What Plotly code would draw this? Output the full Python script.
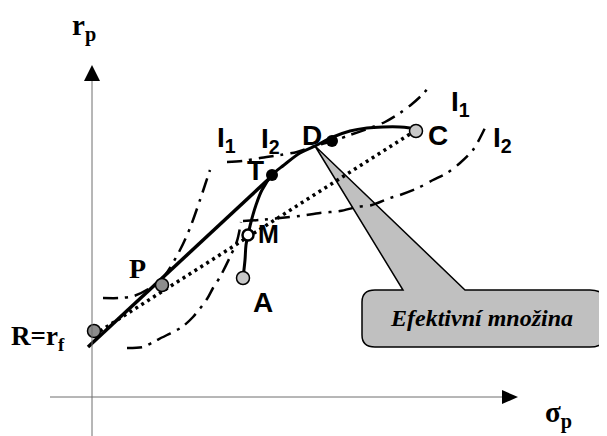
import plotly.graph_objects as go

# ---- data (sigma_p, r_p) in schematic units ----
frontier_sigma = [151, 153, 154, 156, 159, 164, 170, 180, 192, 208, 223, 241, 258, 275, 291, 308, 318]
frontier_r     = [119, 137, 152, 162, 175, 192, 207, 222, 232, 244, 251, 260, 266, 269, 270, 270, 269]

cml_sigma = [-4, 180]
cml_r     = [50, 221]

dotted_sigma = [8, 318]
dotted_r     = [66, 263]

i1_left_sigma = [11, 28, 42, 58, 73, 88, 98, 108, 113, 118]
i1_left_r     = [99, 99, 101, 109, 122, 147, 169, 197, 212, 227]

i2_left_sigma = [35, 51, 63, 75, 90, 101, 115, 121, 128, 138, 145, 149]
i2_left_r     = [49, 50, 56, 62, 70, 80, 98, 109, 120, 140, 156, 175]

i2_right_sigma = [151, 168, 188, 208, 228, 248, 265, 280, 298, 308, 326, 341, 355, 368, 381, 388, 393]
i2_right_r     = [176, 177, 179, 181, 184, 186, 190, 192, 199, 202, 209, 217, 224, 234, 247, 259, 269]

i1_right_sigma = [135, 151, 168, 188, 205, 223, 241, 258, 278, 293, 308, 320, 330, 338]
i1_right_r     = [235, 236, 239, 242, 245, 251, 256, 262, 269, 275, 284, 293, 302, 311]

gray_pts_sigma = [2, 70]          # R, P
gray_pts_r     = [66, 112]
light_pts_sigma = [151, 324]      # A, C
light_pts_r     = [119, 266]
m_sigma, m_r = [156], [162]
black_pts_sigma = [180, 240]      # T, near D
black_pts_r     = [222, 256]

fig = go.Figure()

dashdot = "15px,7px,3px,7px"
for xs, ys in [(i1_left_sigma, i1_left_r), (i2_left_sigma, i2_left_r),
               (i2_right_sigma, i2_right_r), (i1_right_sigma, i1_right_r)]:
    fig.add_trace(go.Scatter(x=xs, y=ys, mode="lines",
                             line=dict(color="black", width=2.5, dash=dashdot, shape="spline", smoothing=0.8),
                             hoverinfo="skip"))

fig.add_trace(go.Scatter(x=dotted_sigma, y=dotted_r, mode="lines",
                         line=dict(color="black", width=3.5, dash="3px,4px"), hoverinfo="skip"))
fig.add_trace(go.Scatter(x=cml_sigma, y=cml_r, mode="lines",
                         line=dict(color="black", width=3.5), hoverinfo="skip"))
fig.add_trace(go.Scatter(x=frontier_sigma, y=frontier_r, mode="lines",
                         line=dict(color="black", width=3, shape="spline"), hoverinfo="skip"))

fig.add_trace(go.Scatter(x=gray_pts_sigma, y=gray_pts_r, mode="markers",
                         marker=dict(size=13, color="#8c8c8c", line=dict(color="black", width=1.5))))
fig.add_trace(go.Scatter(x=light_pts_sigma, y=light_pts_r, mode="markers",
                         marker=dict(size=13, color="#c8c8c8", line=dict(color="black", width=1.5))))
fig.add_trace(go.Scatter(x=m_sigma, y=m_r, mode="markers",
                         marker=dict(size=11, color="white", line=dict(color="black", width=2.5))))
fig.add_trace(go.Scatter(x=black_pts_sigma, y=black_pts_r, mode="markers",
                         marker=dict(size=12, color="black")))

# axes with arrows
axis_col = "#6e6e6e"
shapes = [
    dict(type="line", x0=0, x1=0, y0=-50, y1=318, line=dict(color=axis_col, width=1)),
    dict(type="line", x0=-42, x1=411, y0=0, y1=0, line=dict(color=axis_col, width=1)),
    dict(type="path", path="M -8,316 L 8,316 L 0,332 Z", fillcolor="black", line=dict(width=0)),
    dict(type="path", path="M 410,-7 L 410,7 L 426,0 Z", fillcolor="black", line=dict(width=0)),
    # callout
    dict(type="path", layer="below",
         path=("M 223,251 L 373,107 L 498,107 Q 514,107 514,92 L 514,65 Q 514,50 498,50 "
               "L 283,50 Q 270,50 270,62 L 270,95 Q 270,107 283,107 L 311,107 Z"),
         fillcolor="#c0c0c0", line=dict(color="black", width=1.5)),
]

serif = "Liberation Serif, Times New Roman, serif"
sans = "Liberation Sans, Arial, sans-serif"
ann = []
def lab(x, y, t, fam, size, style="normal"):
    ann.append(dict(x=x, y=y, xref="x", yref="y", text=t, showarrow=False,
                    font=dict(family=fam, size=size, color="black", weight="bold", style=style),
                    xanchor="center", yanchor="middle"))

lab(-8, 370, "r<sub>p</sub>", serif, 29)
lab(466, -17, "σ<sub>p</sub>", serif, 29)
lab(-54, 59, "R=r<sub>f</sub>", serif, 27)
lab(45, 129, "P", serif, 28)
lab(171, 95, "A", sans, 28)
lab(176, 163, "M", sans, 25)
lab(163, 227, "T", sans, 28)
lab(220, 262, "D", sans, 28)
lab(346, 262, "C", sans, 28)
lab(134, 258, "I<sub>1</sub>", sans, 28)
lab(178, 257, "I<sub>2</sub>", sans, 28)
lab(368, 294, "I<sub>1</sub>", sans, 28)
lab(410, 258, "I<sub>2</sub>", sans, 28)
lab(389, 79, "Efektivní množina", serif, 24, style="italic")

# page body has an 8px margin: ranges are offset so the drawing lands where the reference has it
fig.update_layout(
    width=607, height=436, margin=dict(l=0, r=0, t=0, b=0),
    paper_bgcolor="white", plot_bgcolor="white", showlegend=False,
    xaxis=dict(range=[-84, 523], visible=False, fixedrange=True),
    yaxis=dict(range=[-47, 389], visible=False, fixedrange=True),
    shapes=shapes, annotations=ann,
)
fig.write_html("out.html")
